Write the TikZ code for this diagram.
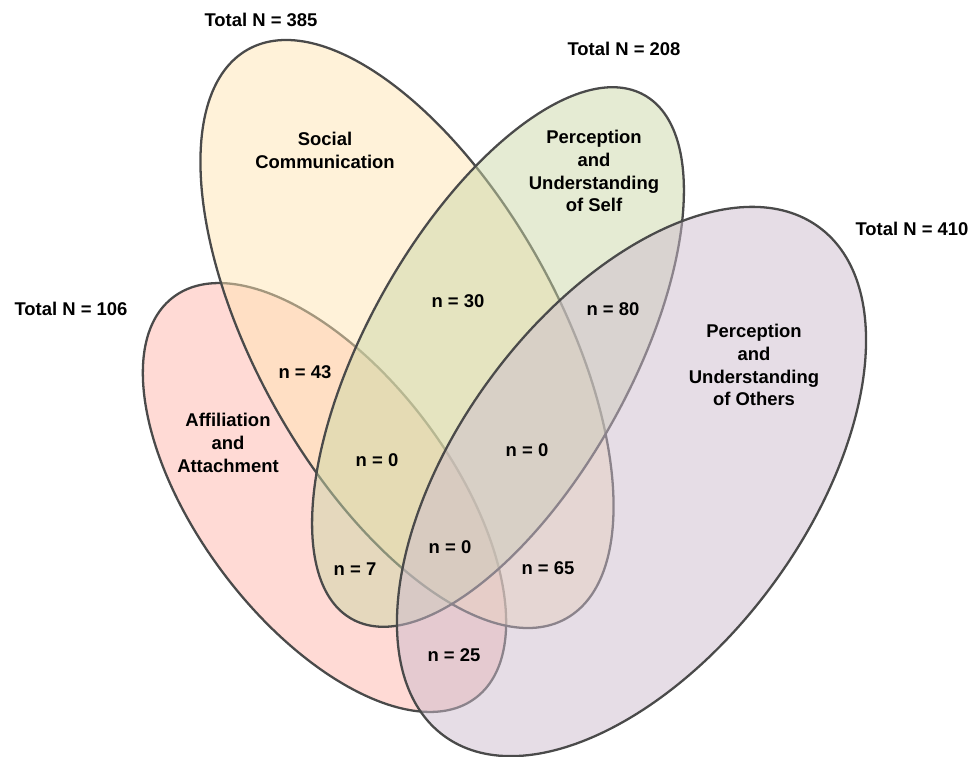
\documentclass[tikz,border=0pt]{standalone}
\usepackage{fontspec}
\setmainfont{Liberation Sans}
\definecolor{affilfill}{HTML}{FFB5AB}
\definecolor{socialfill}{HTML}{FFE5B3}
\definecolor{selffill}{HTML}{CBD7A7}
\definecolor{othersfill}{HTML}{CDBCCD}
\definecolor{rimline}{HTML}{4A4A4A}
\begin{document}
\begin{tikzpicture}
[x=0.02cm,y=0.02cm,
  setdecorate/.style={draw=rimline,line width=1.3pt,fill opacity=0.5},%
  labeldecorate/.style={align=center,inner sep=1pt,
    font=\fontsize{10.5}{13}\selectfont\bfseries}]
\useasboundingbox (0,0) rectangle (971,-757);
%% sets or ellipses
\foreach \cx/\cy/\xr/\yr/\angle/\colour in {
  324.5/497.5/251/126.3/-53/affilfill,
  407/334/326/151/-60.8/socialfill,
  498/357/300/131.6/60.85/selffill,
  631.5/481.5/316/174.8/53.55/othersfill}
{
  \draw[setdecorate,fill=\colour,rotate around={\angle:(\cx,-\cy)}]
    (\cx,-\cy) ellipse [x radius=\xr, y radius=\yr];
}
%% set names
\foreach \nodename/\x/\y/\name in {
  social/325/150/{Social\\Communication},
  self/594/171/{Perception\\and\\Understanding\\of Self},
  others/754/365/{Perception\\and\\Understanding\\of Others},
  affil/228/443/{Affiliation\\and\\Attachment}}
{
  \node (\nodename) at (\x,-\y) [labeldecorate] {\name};
}
%% totals
\foreach \nodename/\x/\y/\total in {
  totsocial/261/20/385, totself/624/49/208,
  totothers/912/229/410, totaffil/71/309/106}
{
  \node (\nodename) at (\x,-\y) [labeldecorate] {Total N = \total};
}
%% counts in the overlaps
\foreach \nodename/\x/\y/\count in {
  socaff/305/372/43, socself/458/301/30, selfoth/613/309/80,
  socselfaff/377/460/0, socselfoth/527/450/0, all/450/547/0,
  selfaff/355/569/7, socoth/548/568/65, affoth/454/655/25}
{
  \node (\nodename) at (\x,-\y) [labeldecorate] {n = \count};
}
\end{tikzpicture}
\end{document}
